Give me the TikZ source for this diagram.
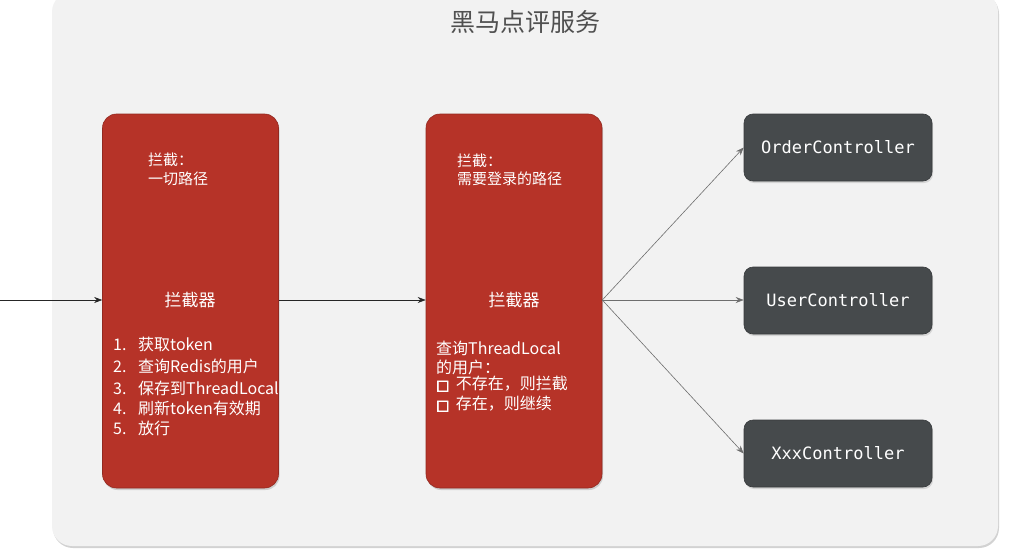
\documentclass[tikz,border=0pt]{standalone}
\usepackage{fontspec}
\setmainfont{Noto Sans CJK SC}
\newfontfamily\monof{DejaVu Sans Mono}
\newfontfamily\symf[FakeBold=4]{DejaVu Sans}
\usetikzlibrary{arrows.meta,shadows}
\definecolor{panelbg}{RGB}{242,242,242}
\definecolor{boxred}{RGB}{182,51,40}
\definecolor{boxdark}{RGB}{70,74,76}
\definecolor{titlegray}{RGB}{80,80,80}
\definecolor{arrgray}{RGB}{110,110,110}
\newcommand{\numbox}[1]{\makebox[25pt][l]{#1}}
\newcommand{\chkbox}{{\symf\fontsize{14pt}{16pt}\selectfont □}\hspace{0.4em}}
\tikzset{
  panel/.style={draw=none, fill=panelbg, rounded corners=20pt, drop shadow={opacity=0.35, shadow xshift=1pt, shadow yshift=-2pt}},
  redbox/.style={fill=boxred, draw=boxred!80!black, line width=0.6pt, rounded corners=14pt, minimum width=176pt, minimum height=374pt, inner sep=0pt, drop shadow={opacity=0.3, shadow xshift=1pt, shadow yshift=-2pt}},
  ctrlbox/.style={fill=boxdark, draw=boxdark!80!black, line width=0.6pt, rounded corners=9pt, minimum width=188pt, minimum height=67pt, inner sep=0pt, text=white, font=\monof\fontsize{17pt}{20pt}\selectfont, drop shadow={opacity=0.25, shadow xshift=1pt, shadow yshift=-2pt}},
  wtxt/.style={text=white, anchor=west, inner sep=0pt, font=\fontsize{15pt}{18pt}\selectfont},
  wlist/.style={text=white, anchor=west, inner sep=0pt, font=\fontsize{16pt}{19pt}\selectfont},
  wtitle/.style={text=white, inner sep=0pt, font=\fontsize{17pt}{20pt}\selectfont},
  blackarr/.style={draw=black!85, line width=0.6pt, -{Stealth[length=8pt,width=6pt]}},
  grayarr/.style={draw=arrgray, line width=0.6pt, -{Stealth[length=8pt,width=6pt]}},
}
\begin{document}
\begin{tikzpicture}[x=1pt,y=-1pt]
\useasboundingbox (0,0) rectangle (1014,551);
\fill[white] (0,0) rectangle (1014,551);
\path[panel] (52,-8) rectangle (998,546);
\node[text=titlegray, font=\fontsize{25pt}{28pt}\selectfont] (title) at (525,22) {黑马点评服务};

\node[redbox] (b1) at (190.5,301) {};
\node[redbox] (b2) at (514,301) {};

\node[ctrlbox] (c1) at (838,147.5) {OrderController};
\node[ctrlbox] (c2) at (838,300.5) {UserController};
\node[ctrlbox] (c3) at (838,453.5) {XxxController};

% box 1 texts
\node[wtxt] (b1h1) at (148,160) {拦截：};
\node[wtxt] (b1h2) at (148,179) {一切路径};
\node[wtitle] (b1t) at (190,300) {拦截器};
\node[wlist] (b1l1) at (113,344) {\numbox{1.}获取token};
\node[wlist] (b1l2) at (113,366) {\numbox{2.}查询Redis的用户};
\node[wlist] (b1l3) at (113,388) {\numbox{3.}保存到ThreadLocal};
\node[wlist] (b1l4) at (113,408) {\numbox{4.}刷新token有效期};
\node[wlist] (b1l5) at (113,428) {\numbox{5.}放行};

% box 2 texts
\node[wtxt] (b2h1) at (457,161) {拦截：};
\node[wtxt] (b2h2) at (457,179) {需要登录的路径};
\node[wtitle] (b2t) at (514,300) {拦截器};
\node[wlist] (b2l1) at (436,348) {查询ThreadLocal};
\node[wlist] (b2l2) at (436,367) {的用户：};
\node[wlist] (b2l3) at (436,384) {\chkbox 不存在，则拦截};
\node[wlist] (b2l4) at (436,404) {\chkbox 存在，则继续};

\coordinate (src) at (0,300);
\draw[blackarr] (src) -- (b1.west |- src);
\draw[blackarr] (b1.east |- src) -- (b2.west |- src);
\coordinate (fan) at (b2.east |- src);
\draw[grayarr] (fan) -- (c1.west);
\draw[grayarr] (fan) -- (c2.west |- src);
\draw[grayarr] (fan) -- (c3.west);
\end{tikzpicture}
\end{document}
